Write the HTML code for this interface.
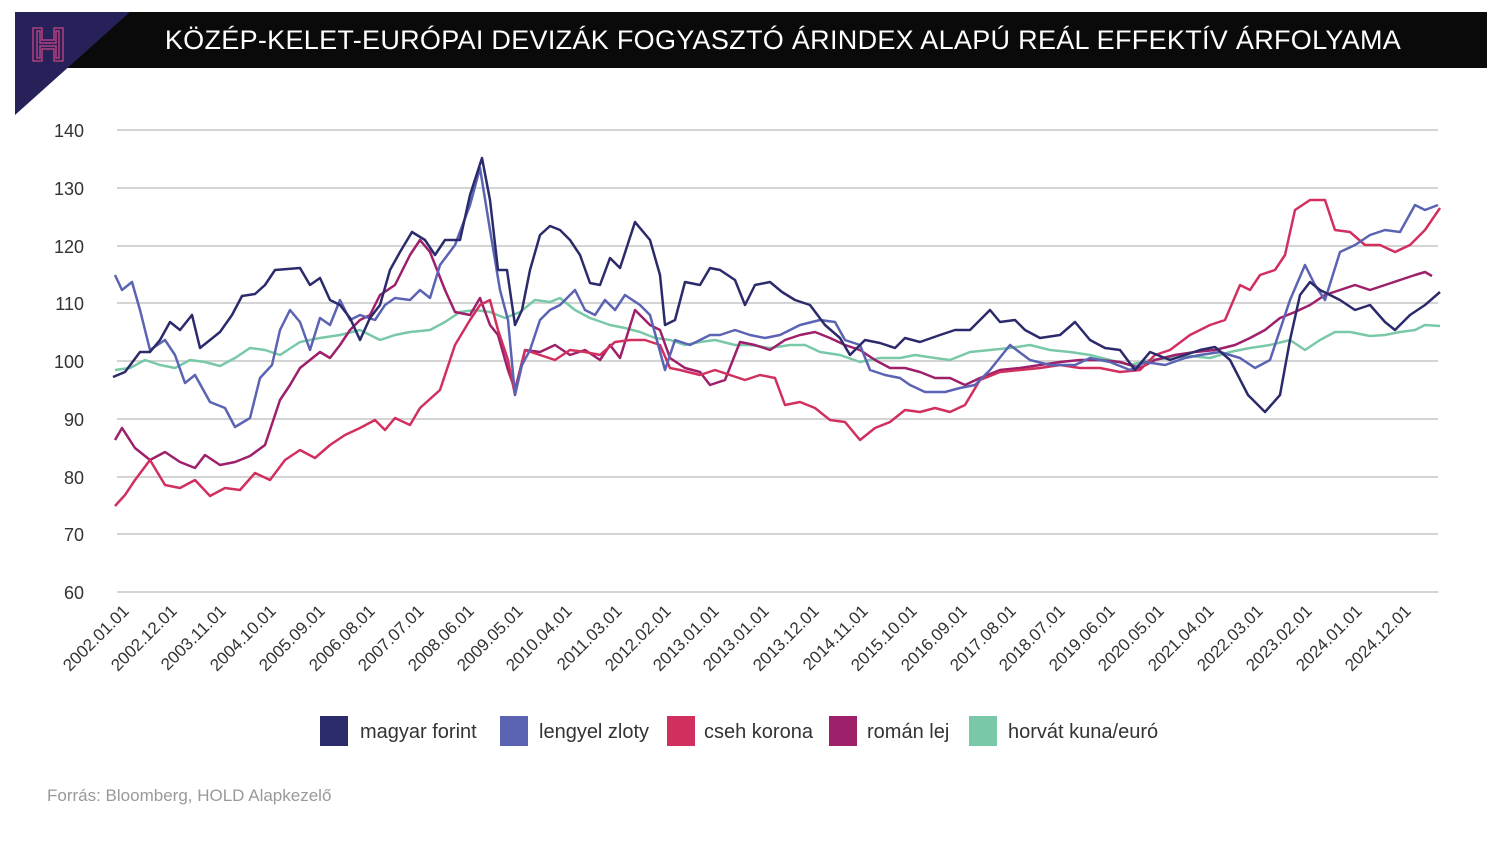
<!DOCTYPE html>
<html><head><meta charset="utf-8"><style>
html,body{margin:0;padding:0;background:#fff;width:1500px;height:843px;overflow:hidden;font-family:"Liberation Sans",sans-serif}
</style></head><body>
<svg width="1500" height="843" xmlns="http://www.w3.org/2000/svg" font-family="Liberation Sans, sans-serif">
<rect x="15" y="12" width="1472" height="56" fill="#0a0a0a"/>
<polygon points="15,12 130,12 15,115" fill="#27215a"/>
<g fill="none" stroke="#b0407f" stroke-width="1.5">
<path d="M33,28 v33 h9 v-12 h12 v12 h9 v-33 h-9 v12 h-12 v-12 z"/>
<path d="M37,31 v27 h3 v-12 h16 v12 h3 v-27 h-3 v12 h-16 v-12 z"/>
</g>
<text x="783" y="49" fill="#fff" font-size="27" letter-spacing="0.3" text-anchor="middle">KÖZÉP-KELET-EURÓPAI DEVIZÁK FOGYASZTÓ ÁRINDEX ALAPÚ REÁL EFFEKTÍV ÁRFOLYAMA</text>
<g stroke="#d4d4d4" stroke-width="2">
<line x1="117" x2="1438" y1="130" y2="130"/><line x1="117" x2="1438" y1="188" y2="188"/>
<line x1="117" x2="1438" y1="246" y2="246"/><line x1="117" x2="1438" y1="303" y2="303"/>
<line x1="117" x2="1438" y1="361" y2="361"/><line x1="117" x2="1438" y1="419" y2="419"/>
<line x1="117" x2="1438" y1="477" y2="477"/><line x1="117" x2="1438" y1="534" y2="534"/>
<line x1="117" x2="1438" y1="592" y2="592"/>
</g>
<g font-size="18" fill="#333" text-anchor="end">
<text x="84" y="137">140</text><text x="84" y="195">130</text><text x="84" y="253">120</text>
<text x="84" y="310">110</text><text x="84" y="368">100</text><text x="84" y="426">90</text>
<text x="84" y="484">80</text><text x="84" y="541">70</text><text x="84" y="599">60</text>
</g>
<g font-size="17" fill="#333" text-anchor="end">
<text transform="translate(130,612) rotate(-45)">2002.01.01</text>
<text transform="translate(178,612) rotate(-45)">2002.12.01</text>
<text transform="translate(227,612) rotate(-45)">2003.11.01</text>
<text transform="translate(277,612) rotate(-45)">2004.10.01</text>
<text transform="translate(326,612) rotate(-45)">2005.09.01</text>
<text transform="translate(376,612) rotate(-45)">2006.08.01</text>
<text transform="translate(425,612) rotate(-45)">2007.07.01</text>
<text transform="translate(475,612) rotate(-45)">2008.06.01</text>
<text transform="translate(524,612) rotate(-45)">2009.05.01</text>
<text transform="translate(573,612) rotate(-45)">2010.04.01</text>
<text transform="translate(623,612) rotate(-45)">2011.03.01</text>
<text transform="translate(672,612) rotate(-45)">2012.02.01</text>
<text transform="translate(720,612) rotate(-45)">2013.01.01</text>
<text transform="translate(770,612) rotate(-45)">2013.01.01</text>
<text transform="translate(820,612) rotate(-45)">2013.12.01</text>
<text transform="translate(869,612) rotate(-45)">2014.11.01</text>
<text transform="translate(918,612) rotate(-45)">2015.10.01</text>
<text transform="translate(968,612) rotate(-45)">2016.09.01</text>
<text transform="translate(1017,612) rotate(-45)">2017.08.01</text>
<text transform="translate(1066,612) rotate(-45)">2018.07.01</text>
<text transform="translate(1116,612) rotate(-45)">2019.06.01</text>
<text transform="translate(1165,612) rotate(-45)">2020.05.01</text>
<text transform="translate(1215,612) rotate(-45)">2021.04.01</text>
<text transform="translate(1264,612) rotate(-45)">2022.03.01</text>
<text transform="translate(1313,612) rotate(-45)">2023.02.01</text>
<text transform="translate(1363,612) rotate(-45)">2024.01.01</text>
<text transform="translate(1412,612) rotate(-45)">2024.12.01</text>
</g>
<g fill="none" stroke-width="2.5" stroke-linejoin="round">
<polyline stroke="#79c8a8" points="115,370 130,368 145,360 160,365 175,368 190,360 205,362 220,366 235,358 250,348 265,350 280,355 300,342 320,338 340,335 360,330 380,340 395,335 410,332 430,330 445,322 460,312 475,310 490,312 505,318 520,312 535,300 550,302 560,298 575,310 590,318 610,325 625,328 640,332 655,338 670,340 685,345 700,342 715,340 735,345 750,345 770,348 790,345 805,345 820,352 840,355 860,362 880,358 900,358 915,355 935,358 950,360 970,352 990,350 1010,348 1030,345 1050,350 1070,352 1090,355 1110,360 1130,365 1150,360 1170,358 1190,356 1210,358 1230,352 1250,348 1270,345 1290,340 1305,350 1320,340 1335,332 1350,332 1370,336 1385,335 1400,332 1415,330 1425,325 1440,326"/>
<polyline stroke="#9e1f6a" points="115,440 122,428 135,448 150,460 165,452 180,462 195,468 205,455 220,465 235,462 250,456 265,445 280,400 290,385 300,368 310,360 320,352 330,358 340,345 350,330 360,320 370,315 380,295 395,285 410,255 420,240 430,252 445,290 455,312 470,315 480,298 490,325 498,335 508,370 515,390 525,350 540,352 555,345 570,355 585,350 600,360 610,345 620,358 635,310 650,325 660,330 670,358 685,368 700,372 710,385 725,380 740,342 755,345 770,350 785,340 800,335 815,332 830,338 845,345 860,350 875,360 890,368 905,368 920,372 935,378 950,378 965,385 980,378 1000,370 1020,368 1040,365 1060,362 1080,360 1100,360 1120,362 1140,368 1155,360 1175,355 1195,352 1215,350 1235,345 1250,338 1265,330 1280,318 1295,312 1310,305 1325,295 1340,290 1355,285 1370,290 1385,285 1400,280 1415,275 1425,272 1432,276"/>
<polyline stroke="#d1305f" points="115,506 125,495 135,480 150,460 165,485 180,488 195,480 210,496 225,488 240,490 255,473 270,480 285,460 300,450 315,458 330,445 345,435 360,428 375,420 385,430 395,418 410,425 420,408 440,390 455,345 470,320 480,305 490,300 498,330 508,360 515,395 525,350 540,355 555,360 570,350 585,352 600,355 615,342 630,340 645,340 660,345 670,368 680,370 700,375 715,370 730,375 745,380 760,375 775,378 785,405 800,402 815,408 830,420 845,422 860,440 875,428 890,422 905,410 920,412 935,408 950,412 965,405 980,380 1000,372 1020,370 1040,368 1060,365 1080,368 1100,368 1120,372 1140,370 1155,355 1170,350 1190,335 1210,325 1225,320 1240,285 1250,290 1260,275 1275,270 1285,255 1295,210 1310,200 1325,200 1335,230 1350,232 1365,245 1380,245 1395,252 1410,245 1425,230 1440,208"/>
<polyline stroke="#5b63b3" points="115,275 122,290 132,282 140,310 150,350 165,340 175,355 185,383 195,375 210,402 225,408 235,427 250,418 260,378 272,365 280,330 290,310 300,322 310,350 320,318 330,325 340,300 350,320 360,315 375,320 385,305 395,298 410,300 420,290 430,298 440,265 455,245 470,205 480,168 490,230 500,290 508,320 515,395 522,365 530,350 540,320 550,310 560,305 570,295 575,290 585,310 595,315 605,300 615,310 625,295 640,305 650,315 665,370 675,340 690,345 700,340 710,335 720,335 735,330 750,335 765,338 780,335 800,325 820,320 835,322 845,340 860,345 870,370 885,375 900,378 910,385 925,392 945,392 960,388 975,385 990,370 1010,345 1030,360 1050,365 1075,365 1090,358 1110,362 1130,370 1145,362 1165,365 1185,358 1200,355 1220,352 1240,358 1255,368 1270,360 1290,300 1305,265 1315,285 1325,300 1340,252 1355,245 1370,235 1385,230 1400,232 1415,205 1425,210 1438,205"/>
<polyline stroke="#2b2a6b" points="113,377 125,372 140,352 150,352 160,340 170,322 180,330 192,315 200,348 210,340 220,332 232,315 242,296 255,294 265,285 275,270 300,268 310,285 320,278 330,300 340,305 350,318 360,340 370,318 380,305 390,270 400,252 412,232 425,240 435,255 445,240 460,240 470,195 482,158 490,200 498,270 507,270 515,325 522,310 530,270 540,235 550,226 560,230 570,240 580,255 590,283 600,285 610,258 620,268 635,222 650,240 660,275 665,325 675,320 685,282 700,285 710,268 720,270 735,280 745,305 755,285 770,282 782,292 795,300 810,305 825,325 840,338 850,355 865,340 880,343 895,348 905,338 920,342 940,335 955,330 970,330 990,310 1000,322 1015,320 1025,330 1040,338 1060,335 1075,322 1090,340 1105,348 1120,350 1135,370 1150,352 1170,360 1185,355 1200,350 1215,347 1230,360 1248,395 1265,412 1280,395 1290,340 1300,295 1310,282 1320,290 1340,300 1355,310 1370,305 1385,322 1395,330 1410,315 1425,305 1440,292"/>
</g>
<g font-size="20" fill="#333">
<rect x="320" y="716" width="28" height="30" fill="#2b2a6b"/><text x="360" y="738">magyar forint</text>
<rect x="500" y="716" width="28" height="30" fill="#5b63b3"/><text x="539" y="738">lengyel zloty</text>
<rect x="667" y="716" width="28" height="30" fill="#d1305f"/><text x="704" y="738">cseh korona</text>
<rect x="829" y="716" width="28" height="30" fill="#9e1f6a"/><text x="867" y="738">román lej</text>
<rect x="969" y="716" width="28" height="30" fill="#79c8a8"/><text x="1008" y="738">horvát kuna/euró</text>
</g>
<text x="47" y="801" font-size="17" fill="#999">Forrás: Bloomberg, HOLD Alapkezelő</text>
</svg>
</body></html>
